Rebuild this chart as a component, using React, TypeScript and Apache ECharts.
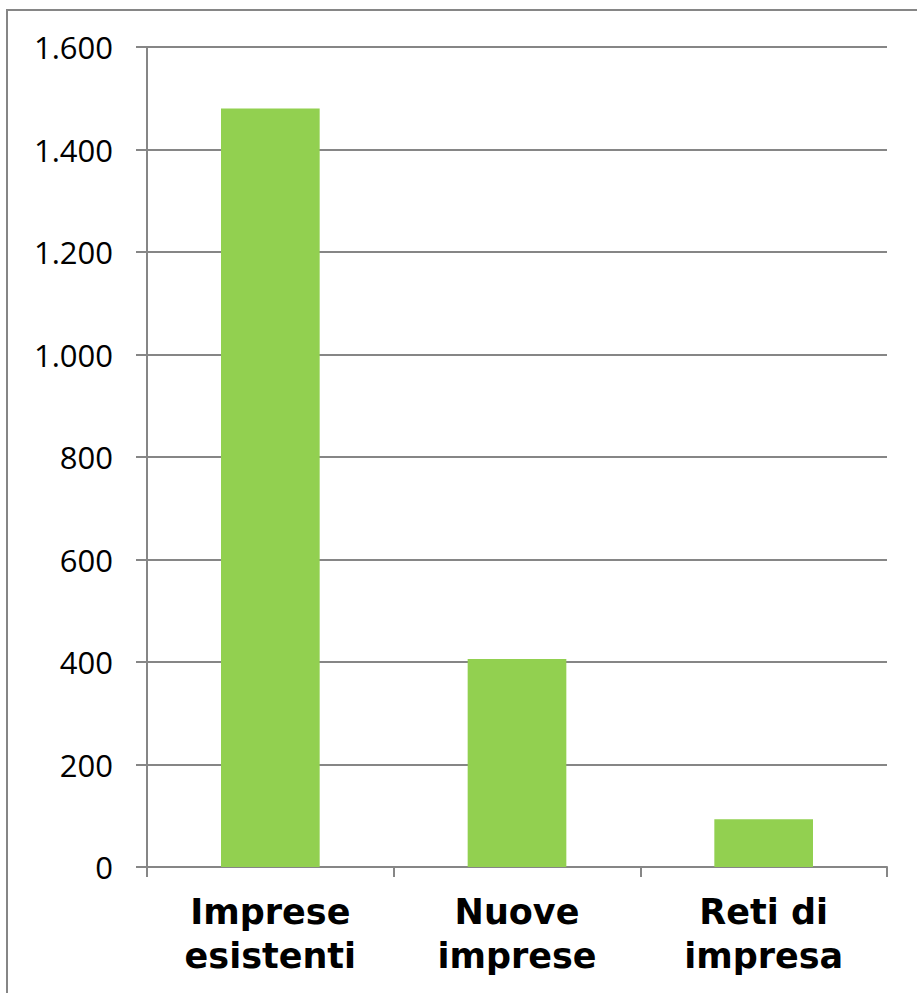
import React, { useEffect, useRef } from "react";
import * as echarts from "echarts";

const categories: string[] = ["Imprese\nesistenti", "Nuove\nimprese", "Reti di\nimpresa"];
const values: number[] = [1480, 406, 93];
const yMin = 0;
const yMax = 1600;
const yStep = 200;

const GRAY = "#868686";

function fmt(v: number): string {
  return String(Math.round(v)).replace(/\B(?=(\d{3})+(?!\d))/g, ".");
}

export default function App() {
  const ref = useRef<HTMLDivElement>(null);
  useEffect(() => {
    if (!ref.current) return;
    const chart = echarts.init(ref.current, undefined, { renderer: "svg" });
    chart.setOption({
      animation: false,
      backgroundColor: "#ffffff",
      graphic: [
        {
          type: "rect",
          shape: { x: 7, y: 10, width: 960, height: 1040 },
          style: { fill: "none", stroke: GRAY, lineWidth: 2 },
          silent: true,
        },
      ],
      grid: { left: 147, right: 30, top: 47, bottom: 126, containLabel: false },
      xAxis: {
        type: "category",
        data: categories,
        axisLine: { show: true, lineStyle: { color: GRAY, width: 2 } },
        axisTick: { show: true, alignWithLabel: false, length: 10, lineStyle: { color: GRAY, width: 2 } },
        axisLabel: {
          interval: 0,
          margin: 23,
          color: "#000000",
          fontFamily: "DejaVu Sans",
          fontWeight: "bold",
          fontSize: 35,
          lineHeight: 44,
        },
        splitLine: { show: false },
      },
      yAxis: {
        type: "value",
        min: yMin,
        max: yMax,
        interval: yStep,
        axisLine: { show: true, lineStyle: { color: GRAY, width: 2 } },
        axisTick: { show: true, length: 11, lineStyle: { color: GRAY, width: 2 } },
        axisLabel: {
          margin: 34,
          color: "#000000",
          fontFamily: "Open Sans",
          fontSize: 31,
          formatter: (v: number) => fmt(v),
        },
        splitLine: { show: true, lineStyle: { color: GRAY, width: 2 } },
      },
      series: [
        {
          type: "bar",
          data: values,
          barWidth: "40%",
          itemStyle: { color: "#92d050" },
        },
      ],
    });
    return () => chart.dispose();
  }, []);
  return (
    <div
      ref={ref}
      style={{ position: "fixed", left: 0, top: 0, width: 917, height: 993 }}
    />
  );
}
